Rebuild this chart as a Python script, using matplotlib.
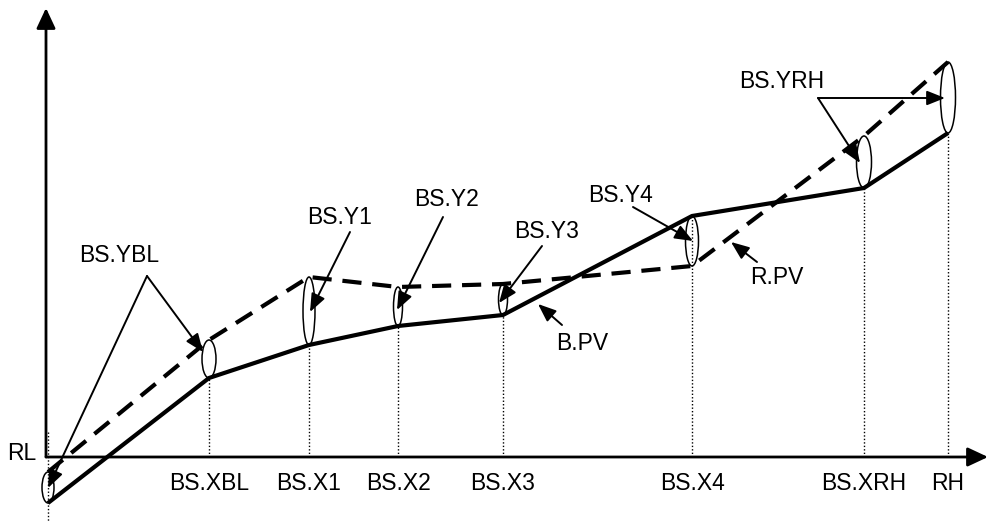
import matplotlib
matplotlib.use("Agg")
import matplotlib.pyplot as plt
from matplotlib.patches import Ellipse

# Break points on the x axis (origin = axes crossing)
x_names = ["RL", "BS.XBL", "BS.X1", "BS.X2", "BS.X3", "BS.X4", "BS.XRH", "RH"]
x_vals = [2, 163, 263, 352, 457, 646, 818, 902]

# B.PV (solid) and R.PV (dashed) values at those points
b_pv = [-46, 79, 112, 131, 142, 241, 269, 324]
r_pv = [-15, 117, 180, 170, 173, 191, 321, 395]

# ellipse widths marking the bias at each point
ell_w = [12, 14, 12, 9, 9, 13, 15, 15]

# annotation labels: (text, text pos, arrow start, arrow tips)
notes = [
    ("BS.YBL", (73, 201), (101, 181), [(2, -31), (157, 105)]),
    ("BS.Y1", (294, 240), (304, 225), [(264, 145)]),
    ("BS.Y2", (400, 258), (397, 240), [(351, 147)]),
    ("BS.Y3", (501, 226), (496, 211), [(453, 154)]),
    ("BS.Y4", (574, 262), (587, 250), [(647, 216)]),
    ("BS.YRH", (736, 375), (772, 359), [(899, 359), (814, 294)]),
    ("R.PV", (731, 180), (711, 195), [(685, 215)]),
    ("B.PV", (536, 114), (516, 132), [(492, 153)]),
]

FONT = "Liberation Sans"
FS = 16.5

fig = plt.figure(figsize=(9.89, 5.21), dpi=100)
ax = fig.add_axes([0, 0, 1, 1])
ax.set_xlim(-46, 943)
ax.set_ylim(-64, 457)
ax.axis("off")

# axes with arrow heads
axis_arrow = dict(arrowstyle="-|>,head_length=0.62,head_width=0.29",
                  lw=2, color="black", mutation_scale=20,
                  shrinkA=0, shrinkB=0)
ax.annotate("", xy=(0, 449), xytext=(0, 0), arrowprops=axis_arrow)
ax.annotate("", xy=(942, 0), xytext=(0, 0), arrowprops=axis_arrow)

# dotted drop lines
for x, yb in zip(x_vals[1:], b_pv[1:]):
    ax.plot([x, x], [0, yb], ls=(0, (1, 1.5)), lw=1, color="black")
ax.plot([x_vals[0], x_vals[0]], [25, -64], ls=(0, (1, 1.5)), lw=1, color="black")

# the two process value lines
ax.plot(x_vals, b_pv, color="black", lw=3, solid_capstyle="butt")
ax.plot(x_vals, r_pv, color="black", lw=3, ls=(0, (4.6, 2.6)))

# ellipses between the lines
for x, yb, yr, w in zip(x_vals, b_pv, r_pv, ell_w):
    ax.add_patch(Ellipse((x, (yb + yr) / 2), w, abs(yr - yb),
                         fill=False, ec="black", lw=1.1, zorder=3))

# x labels
for x, name in zip(x_vals[1:], x_names[1:]):
    ax.text(x, -26, name, ha="center", va="center",
            fontsize=FS, family=FONT)
ax.text(-24, 3, x_names[0], ha="center", va="center", fontsize=FS, family=FONT)

# annotations
thin_arrow = dict(arrowstyle="-|>,head_length=0.55,head_width=0.22",
                  lw=1.4, color="black", mutation_scale=20,
                  shrinkA=0, shrinkB=0)
for text, tpos, start, tips in notes:
    ax.text(tpos[0], tpos[1], text, ha="center", va="center",
            fontsize=FS, family=FONT)
    for tip in tips:
        ax.annotate("", xy=tip, xytext=start, arrowprops=thin_arrow)

fig.savefig("out.png", dpi=100)
